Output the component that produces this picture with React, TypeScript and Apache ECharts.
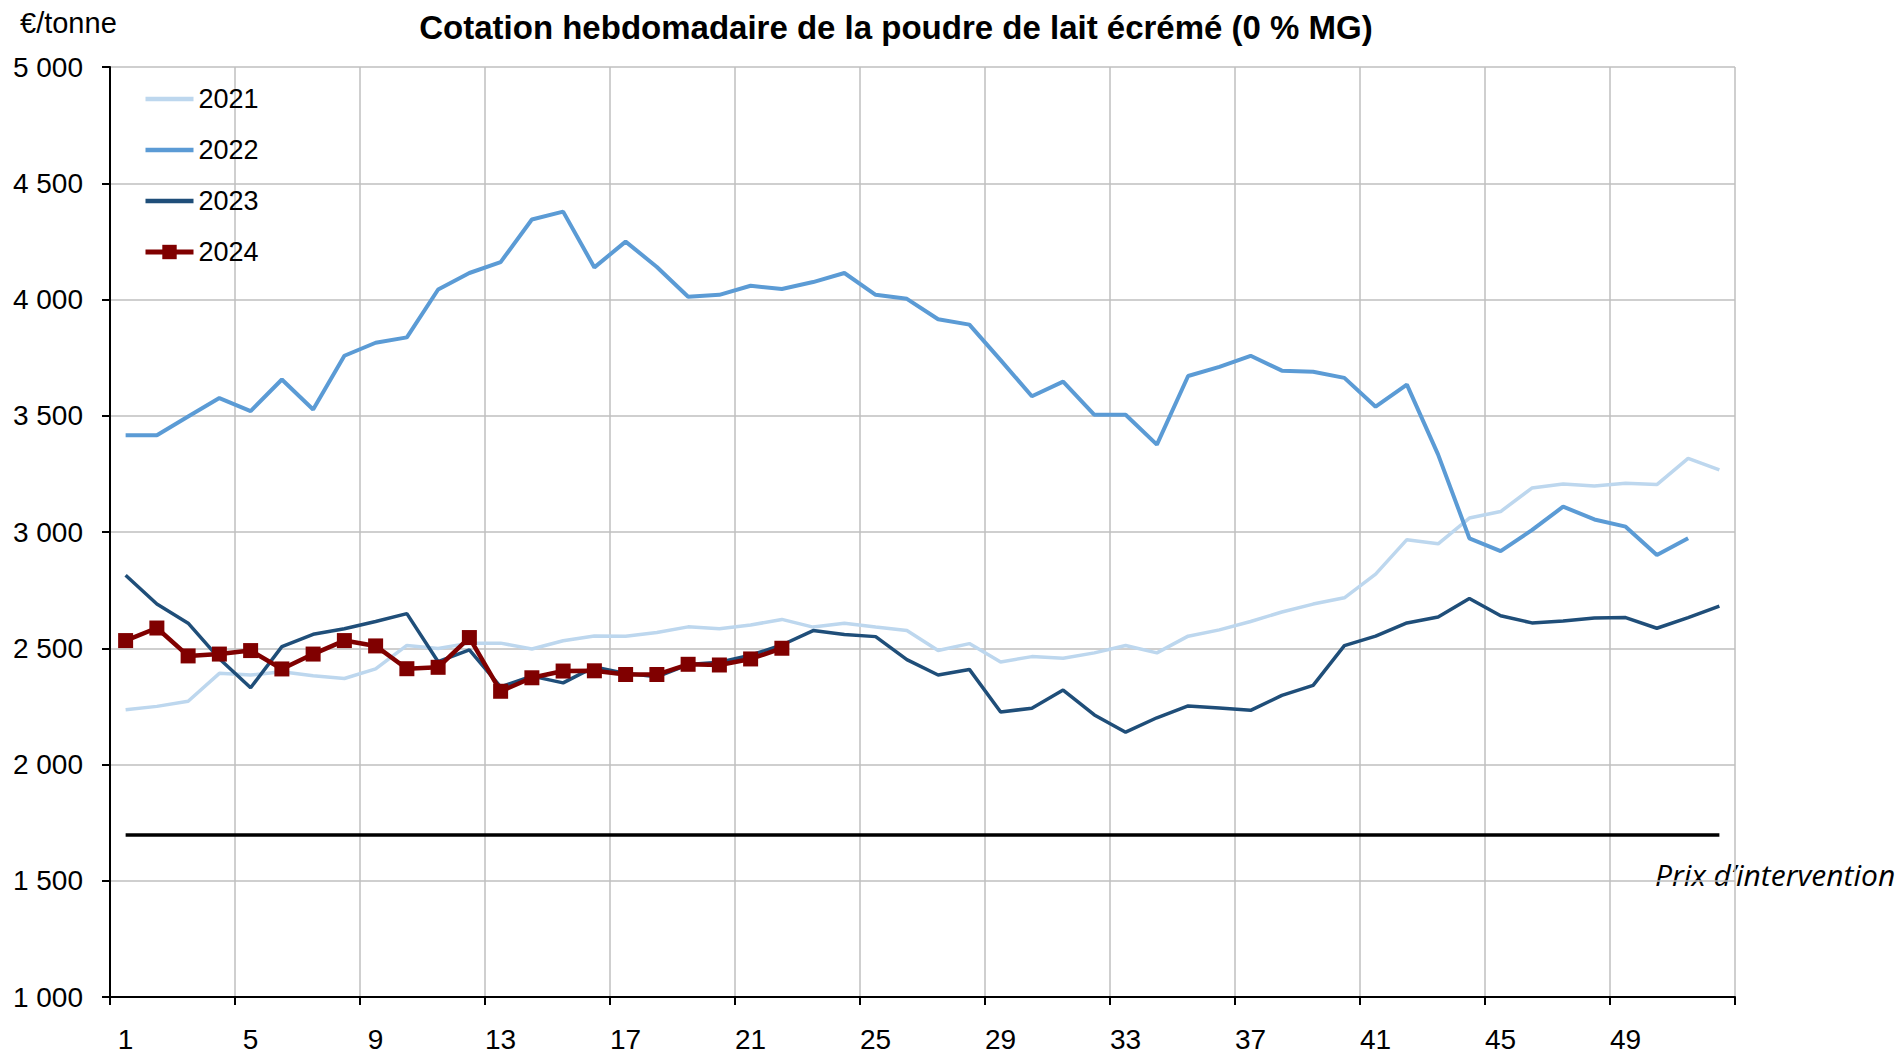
import React, { useEffect, useRef } from "react";
import * as echarts from "echarts";

const TITLE = "Cotation hebdomadaire de la poudre de lait écrémé (0 % MG)";
const UNIT = "€/tonne";
const INTERVENTION_LABEL = "Prix d’intervention";
const INTERVENTION = 1698;

const WEEKS: string[] = Array.from({ length: 52 }, (_, i) => String(i + 1));

const Y2021 = [
  2235, 2250, 2272, 2392, 2385, 2399, 2382, 2370, 2411, 2512, 2499, 2522, 2522,
  2497, 2532, 2553, 2552, 2568, 2592, 2584, 2600, 2624, 2591, 2608, 2591, 2576,
  2490, 2520, 2441, 2464, 2457, 2480, 2512, 2480, 2552, 2579, 2615, 2656, 2690,
  2717, 2819, 2967, 2949, 3060, 3088, 3189, 3206, 3198, 3210, 3204, 3317, 3267,
];

const Y2022 = [
  3416, 3416, 3497, 3576, 3520, 3656, 3527, 3758, 3814, 3837, 4043, 4114, 4161,
  4344, 4378, 4138, 4249, 4140, 4012, 4020, 4059, 4045, 4075, 4114, 4020, 4003,
  3915, 3892, 3739, 3584, 3647, 3504, 3504, 3376, 3671, 3710, 3758, 3694, 3689,
  3663, 3539, 3634, 3333, 2973, 2918, 3008, 3109, 3054, 3023, 2901, 2973, null,
];

const Y2023 = [
  2814, 2690, 2608, 2455, 2330, 2507, 2560, 2584, 2615, 2649, 2442, 2493, 2334,
  2380, 2351, 2420, 2392, 2377, 2430, 2440, 2470, 2514, 2576, 2559, 2550, 2451,
  2385, 2409, 2226, 2242, 2320, 2213, 2139, 2201, 2252, 2243, 2233, 2297, 2340,
  2511, 2552, 2609, 2634, 2714, 2640, 2609, 2617, 2630, 2632, 2586, 2632, 2681,
];

const Y2024 = [
  2533, 2587, 2467, 2475, 2490, 2411, 2475, 2533, 2510, 2412, 2418, 2546, 2315,
  2373, 2402, 2403, 2387, 2387, 2431, 2428, 2454, 2500,
];

const Y_TICKS_MIN = 1000;
const Y_TICKS_MAX = 5000;
const Y_TICKS_STEP = 500;

const FONT = "'Liberation Sans', Arial, sans-serif";

function fmt(v: number): string {
  return String(v).replace(/\B(?=(\d{3})+(?!\d))/g, " ");
}

export default function App() {
  const ref = useRef<HTMLDivElement | null>(null);

  useEffect(() => {
    if (!ref.current) return;
    const chart = echarts.init(ref.current, undefined, { renderer: "svg" });
    const option: any = {
      animation: false,
      backgroundColor: "#ffffff",
      textStyle: { fontFamily: FONT },
      grid: { left: 110, right: 162, top: 67, bottom: 57, containLabel: false },
      legend: {
        orient: "vertical",
        left: 143,
        top: 85,
        padding: 0,
        itemWidth: 48,
        itemHeight: 18,
        itemGap: 23,
        textStyle: { fontSize: 27, color: "#000", fontFamily: FONT, lineHeight: 28 },
        data: [
          { name: "2021", itemStyle: { opacity: 0 }, lineStyle: { width: 4.5, color: "#BDD7EE" } },
          { name: "2022", itemStyle: { opacity: 0 }, lineStyle: { width: 4.5, color: "#5B9BD5" } },
          { name: "2023", itemStyle: { opacity: 0 }, lineStyle: { width: 4.5, color: "#1F4E79" } },
          { name: "2024", lineStyle: { width: 5, color: "#800000" } },
        ],
      },
      xAxis: {
        type: "category",
        data: WEEKS,
        boundaryGap: true,
        axisLine: { lineStyle: { color: "#000", width: 2 } },
        axisTick: { show: true, interval: 3, length: 8, inside: false, lineStyle: { color: "#000", width: 2 } },
        axisLabel: { interval: 3, margin: 28, fontSize: 28, color: "#000", fontFamily: FONT },
        splitLine: { show: true, interval: 3, lineStyle: { color: "#BFBFBF", width: 1.5 } },
      },
      yAxis: {
        type: "value",
        min: Y_TICKS_MIN,
        max: Y_TICKS_MAX,
        interval: Y_TICKS_STEP,
        axisLine: { show: true, lineStyle: { color: "#000", width: 2 } },
        axisTick: { show: true, length: 8, lineStyle: { color: "#000", width: 2 } },
        axisLabel: { margin: 27, fontSize: 28, color: "#000", fontFamily: FONT, formatter: (v: number) => fmt(v) },
        splitLine: { show: true, lineStyle: { color: "#BFBFBF", width: 1.5 } },
      },
      series: [
        {
          name: "2021",
          type: "line",
          data: Y2021,
          symbol: "none",
          showSymbol: false,
          lineStyle: { color: "#BDD7EE", width: 3.5 },
          itemStyle: { color: "#BDD7EE" },
          z: 2,
          markLine: {
            silent: true,
            symbol: "none",
            label: { show: false },
            lineStyle: { color: "#000", width: 3.5, type: "solid" },
            data: [[{ coord: ["1", INTERVENTION] }, { coord: ["52", INTERVENTION] }]],
          },
        },
        {
          name: "2022",
          type: "line",
          data: Y2022,
          symbol: "none",
          showSymbol: false,
          lineStyle: { color: "#5B9BD5", width: 4 },
          itemStyle: { color: "#5B9BD5" },
          z: 3,
        },
        {
          name: "2023",
          type: "line",
          data: Y2023,
          symbol: "none",
          showSymbol: false,
          lineStyle: { color: "#1F4E79", width: 3.5 },
          itemStyle: { color: "#1F4E79" },
          z: 4,
        },
        {
          name: "2024",
          type: "line",
          data: Y2024,
          symbol: "rect",
          symbolSize: 15,
          showSymbol: true,
          lineStyle: { color: "#800000", width: 4.5 },
          itemStyle: { color: "#800000" },
          z: 5,
        },
      ],
      graphic: [
        {
          type: "text",
          x: 896,
          y: 27,
          style: {
            text: TITLE,
            fill: "#000",
            font: `bold 33px ${FONT}`,
            textAlign: "center",
            textVerticalAlign: "middle",
          },
        },
        {
          type: "text",
          x: 20,
          y: 23,
          style: {
            text: UNIT,
            fill: "#000",
            font: `29px ${FONT}`,
            textAlign: "left",
            textVerticalAlign: "middle",
          },
        },
        {
          type: "text",
          x: 1655,
          y: 874,
          style: {
            text: INTERVENTION_LABEL,
            fill: "#000",
            font: `italic 30px 'Open Sans', sans-serif`,
            textAlign: "left",
            textVerticalAlign: "middle",
          },
        },
      ],
    };
    chart.setOption(option);
    return () => chart.dispose();
  }, []);

  return (
    <div
      ref={ref}
      style={{ position: "fixed", left: 0, top: 0, width: 1897, height: 1054, background: "#fff" }}
    />
  );
}
